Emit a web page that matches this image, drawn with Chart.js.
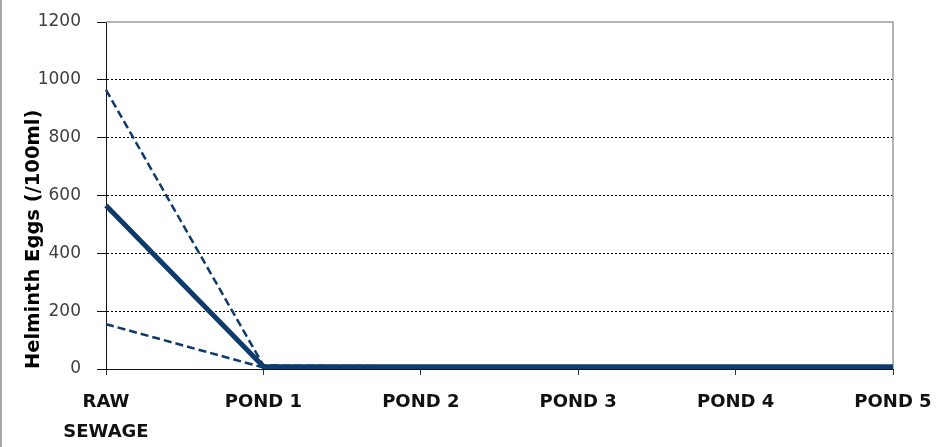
<!DOCTYPE html>
<html>
<head>
<meta charset="utf-8">
<script src="https://cdn.jsdelivr.net/npm/chart.js@4/dist/chart.umd.min.js"></script>
<style>
  html, body { margin: 0; padding: 0; background: #fff; }
  #wrap { width: 937px; height: 447px; position: relative; }
</style>
</head>
<body>
<div id="wrap"><canvas id="c"></canvas></div>
<script>
// Sampling stages along the pond series
const stages = [['RAW', 'SEWAGE'], 'POND 1', 'POND 2', 'POND 3', 'POND 4', 'POND 5'];

// Helminth egg counts per 100 ml
const meanEggs  = [565, 9, 8, 8, 8, 8];
const upperEggs = [965, 12, 9, 9, 9, 9];
const lowerEggs = [155, 5, 6, 6, 6, 6];

const yTicks = [0, 200, 400, 600, 800, 1000, 1200];

const NAVY = '#0d3b6b';

// Grey frame: top and right edges of the plot, plus the outer left rule
const framePlugin = {
  id: 'frame',
  beforeDatasetsDraw(chart) {
    const { ctx, chartArea: a } = chart;
    ctx.save();
    ctx.strokeStyle = '#9a9a9a';
    ctx.lineWidth = 1.5;
    ctx.beginPath();
    ctx.moveTo(a.left, a.top);
    ctx.lineTo(a.right, a.top);
    ctx.lineTo(a.right, a.bottom);
    ctx.stroke();
    ctx.restore();
  },
  afterDraw(chart) {
    const { ctx } = chart;
    ctx.save();
    ctx.strokeStyle = '#8a8a8a';
    ctx.lineWidth = 1.5;
    ctx.beginPath();
    ctx.moveTo(1, 0);
    ctx.lineTo(1, chart.height);
    ctx.stroke();
    ctx.restore();
  }
};

new Chart(document.getElementById('c'), {
  type: 'line',
  data: {
    labels: stages,
    datasets: [
      { label: 'Mean', data: meanEggs, borderColor: NAVY, borderWidth: 5, order: 0 },
      { label: 'Upper', data: upperEggs, borderColor: NAVY, borderWidth: 2.5, borderDash: [8, 4], order: 1 },
      { label: 'Lower', data: lowerEggs, borderColor: NAVY, borderWidth: 2.5, borderDash: [8, 4], order: 2 }
    ]
  },
  options: {
    responsive: true,
    maintainAspectRatio: false,
    animation: false,
    layout: { padding: { left: 0, right: 44, top: 22, bottom: 0 } },
    elements: {
      point: { radius: 0, hoverRadius: 0 },
      line: { tension: 0, borderCapStyle: 'butt', borderJoinStyle: 'round', fill: false }
    },
    plugins: { legend: { display: false }, tooltip: { enabled: false } },
    scales: {
      x: {
        type: 'category',
        offset: false,
        grid: { drawOnChartArea: false, drawTicks: true, tickLength: 6, tickColor: '#333', tickWidth: 1 },
        border: { display: true, color: '#111', width: 1 },
        ticks: {
          color: '#111',
          padding: 12,
          maxRotation: 0,
          autoSkip: false,
          font: { family: 'DejaVu Sans', size: 18, weight: 'bold', lineHeight: 1.667 }
        },
        afterFit(scale) {
          scale.height = 78;
          scale.paddingLeft = 0;
          scale.paddingRight = 0;
        }
      },
      y: {
        min: 0,
        max: 1200,
        afterBuildTicks(scale) { scale.ticks = yTicks.map(v => ({ value: v })); },
        grid: {
          color(ctx) {
            const v = ctx.tick && ctx.tick.value;
            return (v === 0 || v === 1200) ? 'rgba(0,0,0,0)' : '#000';
          },
          lineWidth: 1,
          drawTicks: true,
          tickLength: 9,
          tickColor: '#111',
          tickWidth: 1
        },
        border: { display: true, color: '#111', width: 1, dash: [2, 2] },
        ticks: {
          color: '#404040',
          padding: 16,
          font: { family: 'DejaVu Sans', size: 17 },
          callback: v => String(v)
        },
        title: {
          display: true,
          text: 'Helminth Eggs (/100ml)',
          align: 'start',
          color: '#000',
          padding: { top: 22, bottom: 0 },
          font: { family: 'DejaVu Sans', size: 19.5, weight: 'bold' }
        },
        afterFit(scale) {
          scale.width = 106;
          scale.paddingTop = 0;
          scale.paddingBottom = 0;
        }
      }
    }
  },
  plugins: [framePlugin]
});
</script>
</body>
</html>
